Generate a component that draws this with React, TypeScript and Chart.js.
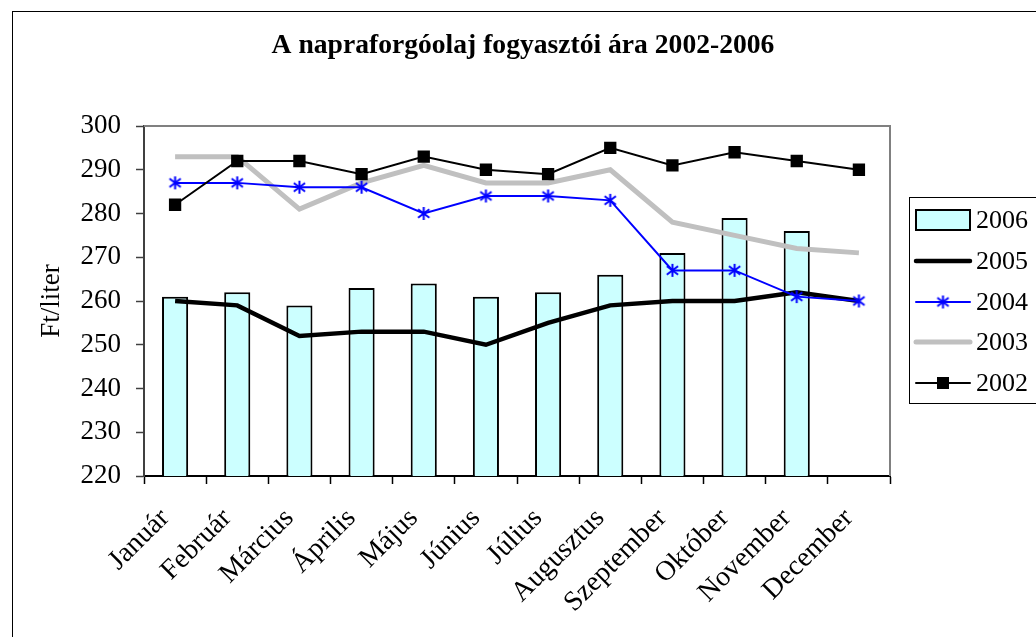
import React, { useEffect, useRef } from "react";
import { Chart, registerables } from "chart.js";

Chart.register(...registerables);

const months = [
  "Január", "Február", "Március", "Április", "Május", "Június",
  "Július", "Augusztus", "Szeptember", "Október", "November", "December",
];
const y2006 = [261, 262, 259, 263, 264, 261, 262, 266, 271, 279, 276, null];
const y2005 = [260, 259, 252, 253, 253, 250, 255, 259, 260, 260, 262, 260];
const y2004 = [287, 287, 286, 286, 280, 284, 284, 283, 267, 267, 261, 260];
const y2003 = [293, 293, 281, 287, 291, 287, 287, 290, 278, 275, 272, 271];
const y2002 = [282, 292, 292, 289, 293, 290, 289, 295, 291, 294, 292, 290];

const titleText = "A napraforgóolaj fogyasztói ára 2002-2006";
const yTitle = "Ft/liter";
const SERIF = "'Liberation Serif', 'Times New Roman', serif";

function makeStar(color: string, size: number) {
  const c = document.createElement("canvas");
  c.width = size;
  c.height = size;
  const g = c.getContext("2d")!;
  g.strokeStyle = color;
  g.lineWidth = 2;
  const m = size / 2;
  const r = size / 2 - 1;
  const d = r * 0.87;
  g.beginPath();
  g.moveTo(m, m - r);
  g.lineTo(m, m + r);
  g.moveTo(m - d, m - d * 0.75);
  g.lineTo(m + d, m + d * 0.75);
  g.moveTo(m + d, m - d * 0.75);
  g.lineTo(m - d, m + d * 0.75);
  g.stroke();
  return c;
}

export default function App() {
  const ref = useRef<HTMLCanvasElement | null>(null);

  useEffect(() => {
    if (!ref.current) return;
    const star = makeStar("#0000FF", 15);

    const framePlugin = {
      id: "frame",
      beforeDraw(chart: any) {
        const ctx = chart.ctx;
        ctx.save();
        ctx.fillStyle = "#ffffff";
        ctx.fillRect(0, 0, chart.width, chart.height);
        ctx.strokeStyle = "#000000";
        ctx.lineWidth = 1;
        ctx.strokeRect(12.5, 11.5, 1200, 800);
        ctx.font = `bold 27.6px ${SERIF}`;
        ctx.fillStyle = "#000";
        ctx.textAlign = "center";
        ctx.textBaseline = "middle";
        ctx.fillText(titleText, 523, 46);
        ctx.restore();
      },
      beforeDatasetsDraw(chart: any) {
        const { ctx, chartArea } = chart;
        ctx.save();
        ctx.strokeStyle = "#808080";
        ctx.lineWidth = 2;
        ctx.beginPath();
        ctx.moveTo(chartArea.left, chartArea.top);
        ctx.lineTo(chartArea.right, chartArea.top);
        ctx.lineTo(chartArea.right, chartArea.bottom);
        ctx.stroke();
        ctx.restore();
      },
      afterDraw(chart: any) {
        const ctx = chart.ctx;
        ctx.save();
        ctx.strokeStyle = "#000";
        ctx.lineWidth = 1;
        ctx.strokeRect(909.5, 197.5, 300, 206);
        const names = ["2006", "2005", "2004", "2003", "2002"];
        const ys = [220, 261, 302, 342, 383];
        ctx.font = `26px ${SERIF}`;
        ctx.textAlign = "left";
        ctx.textBaseline = "middle";
        names.forEach((n, i) => {
          const y = ys[i];
          const x0 = 916, x1 = 970;
          if (i === 0) {
            ctx.fillStyle = "#CCFFFF";
            ctx.fillRect(x0, y - 10, x1 - x0, 20);
            ctx.strokeStyle = "#000";
            ctx.lineWidth = 2;
            ctx.strokeRect(x0, y - 10, x1 - x0, 20);
          } else {
            const ds = chart.data.datasets[i];
            ctx.strokeStyle = ds.borderColor;
            ctx.lineWidth = ds.borderWidth;
            ctx.lineCap = "round";
            ctx.beginPath();
            ctx.moveTo(x0, y);
            ctx.lineTo(x1, y);
            ctx.stroke();
            if (i === 2) {
              ctx.drawImage(star, (x0 + x1) / 2 - 7.5, y - 7.5);
            } else if (i === 4) {
              ctx.fillStyle = "#000";
              ctx.fillRect((x0 + x1) / 2 - 6, y - 6, 12, 12);
            }
          }
          ctx.fillStyle = "#000";
          ctx.fillText(n, 976, y + 1);
        });
        ctx.restore();
      },
    };

    const chart = new Chart(ref.current, {
      type: "bar",
      data: {
        labels: months,
        datasets: [
          {
            type: "bar",
            label: "2006",
            data: y2006,
            backgroundColor: "#CCFFFF",
            borderColor: "#000000",
            borderWidth: 2,
            categoryPercentage: 1,
            barPercentage: 0.42,
            order: 5,
          },
          {
            type: "line",
            label: "2005",
            data: y2005,
            borderColor: "#000000",
            borderWidth: 4.5,
            pointRadius: 0,
            tension: 0,
            order: 4,
          },
          {
            type: "line",
            label: "2004",
            data: y2004,
            borderColor: "#0000FF",
            backgroundColor: "#0000FF",
            borderWidth: 2,
            pointStyle: star,
            pointRadius: 7,
            tension: 0,
            order: 2,
          },
          {
            type: "line",
            label: "2003",
            data: y2003,
            borderColor: "#C0C0C0",
            borderWidth: 5,
            pointRadius: 0,
            tension: 0,
            order: 3,
          },
          {
            type: "line",
            label: "2002",
            data: y2002,
            borderColor: "#000000",
            backgroundColor: "#000000",
            borderWidth: 2,
            pointStyle: "rect",
            pointRadius: 8.7,
            pointBorderWidth: 0,
            tension: 0,
            order: 1,
          },
        ],
      },
      options: {
        responsive: false,
        animation: false,
        layout: { padding: { left: 0, top: 126, right: 146, bottom: 0 } },
        plugins: {
          legend: { display: false },
          title: { display: false },
          tooltip: { enabled: false },
        },
        scales: {
          x: {
            type: "category",
            offset: true,
            grid: {
              offset: true,
              drawOnChartArea: false,
              drawTicks: true,
              tickLength: 8,
              tickColor: "#000",
              tickWidth: 1.5,
            },
            border: { color: "#000", width: 2 },
            ticks: {
              color: "#000",
              font: { family: SERIF, size: 28 },
              minRotation: 45,
              maxRotation: 45,
              autoSkip: false,
              padding: 18,
              labelOffset: -10,
            },
            afterFit(scale: any) {
              scale.height = 161;
            },
          },
          y: {
            min: 220,
            max: 300,
            ticks: {
              stepSize: 10,
              color: "#000",
              font: { family: SERIF, size: 27 },
              padding: 15,
            },
            grid: {
              drawOnChartArea: false,
              drawTicks: true,
              tickLength: 8,
              tickColor: "#404040",
              tickWidth: 1.5,
            },
            border: { color: "#404040", width: 2 },
            title: {
              display: true,
              text: yTitle,
              color: "#000",
              font: { family: SERIF, size: 27, weight: "normal" },
              padding: { top: 36, bottom: 0 },
            },
            afterFit(scale: any) {
              scale.width = 144;
            },
          },
        },
      },
      plugins: [framePlugin],
    } as any);

    return () => chart.destroy();
  }, []);

  return (
    <div style={{ position: "absolute", left: 0, top: 0, width: 1036, height: 637, background: "#fff" }}>
      <canvas ref={ref} width={1036} height={637} style={{ display: "block" }} />
    </div>
  );
}
